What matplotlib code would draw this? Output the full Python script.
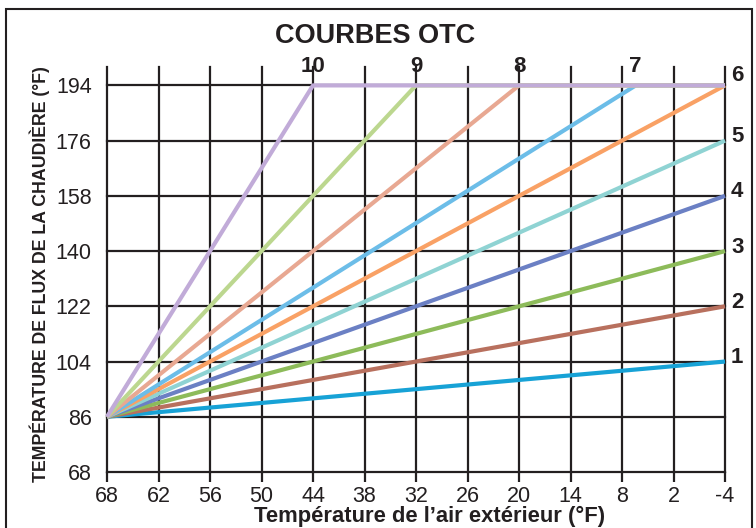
import matplotlib
matplotlib.use("Agg")
import matplotlib.pyplot as plt
from matplotlib.patches import Rectangle

# Data
curve_names = ["1", "2", "3", "4", "5", "6", "7", "8", "9", "10"]
start_x = 68
start_y = 86
# point where each curve reaches its maximum (outdoor temp, flow temp)
break_x = [-4, -4, -4, -4, -4, -4, 6.4, 20, 32, 44]
break_y = [104, 122, 140, 158, 176, 194, 194, 194, 194, 194]
end_x = -4
colors = ["#17a2d6", "#b8705e", "#8dbb5a", "#6b80c4", "#8fd3d3",
          "#f9a165", "#6cbde8", "#e8a892", "#bcd78f", "#c1abd8"]
x_ticks = [68, 62, 56, 50, 44, 38, 32, 26, 20, 14, 8, 2, -4]
y_ticks = [68, 86, 104, 122, 140, 158, 176, 194]

plt.rcParams['font.family'] = ["Liberation Sans", "DejaVu Sans"]
plt.rcParams['axes.unicode_minus'] = False

W, H = 756, 528
fig = plt.figure(figsize=(W / 100, H / 100), dpi=100)
ax = fig.add_axes([107 / W, 1 - 472 / H, (725 - 107) / W, (472 - 67) / H])

ax.set_xlim(68, -4)
ax.set_ylim(68, 200)

grid_c = "#231f20"
for xv in x_ticks:
    ax.plot([xv, xv], [68, 200], color=grid_c, lw=1.6, zorder=1, clip_on=False)
for yv in y_ticks:
    ax.plot([68, -4], [yv, yv], color=grid_c, lw=1.6, zorder=1, clip_on=False)

for spine in ["top", "right", "left", "bottom"]:
    ax.spines[spine].set_visible(False)

ax.set_xticks(x_ticks)
ax.set_yticks(y_ticks)
ax.tick_params(axis="x", length=7, width=1.6, color=grid_c, pad=3, labelsize=15.5)
ax.tick_params(axis="y", length=0, pad=11, labelsize=15.5)
for lab in ax.get_xticklabels() + ax.get_yticklabels():
    lab.set_color("#231f20")

for i in range(len(curve_names)):
    xs = [start_x, break_x[i]]
    ys = [start_y, break_y[i]]
    if break_x[i] != end_x:
        xs.append(end_x)
        ys.append(break_y[i])
    ax.plot(xs, ys, color=colors[i], lw=3.0, zorder=3 + i,
            solid_capstyle="butt", clip_on=False)

for i in range(len(curve_names)):
    if break_x[i] == end_x:
        dy = 10 if i == 5 else 4
        ax.annotate(curve_names[i], (end_x, break_y[i]), xytext=(6, dy),
                    textcoords="offset pixels", ha="left", va="center",
                    fontsize=16, fontweight="bold", color="#231f20",
                    annotation_clip=False)
    else:
        ax.annotate(curve_names[i], (break_x[i], break_y[i]), xytext=(0, 19),
                    textcoords="offset pixels", ha="center", va="center",
                    fontsize=16, fontweight="bold", color="#231f20",
                    annotation_clip=False)

fig.text(375 / W, 1 - 36 / H, "COURBES OTC", ha="center", va="center",
         fontsize=19.5, fontweight="bold", color="#231f20")
fig.text(430 / W, 1 - 516 / H, "Température de l’air extérieur (°F)",
         ha="center", va="center", fontsize=15.8, fontweight="bold",
         color="#231f20")
fig.text(40 / W, 1 - 274 / H, "TEMPÉRATURE DE FLUX DE LA CHAUDIÈRE (°F)",
         ha="center", va="center", rotation=90, fontsize=12.8,
         fontweight="bold", color="#231f20")

fig.add_artist(Rectangle((6 / W, -0.05), (752 - 6) / W, 1.05 - 9 / H,
                         transform=fig.transFigure, fill=False,
                         edgecolor="#231f20", lw=1.5))

fig.savefig("out.png", dpi=100)
